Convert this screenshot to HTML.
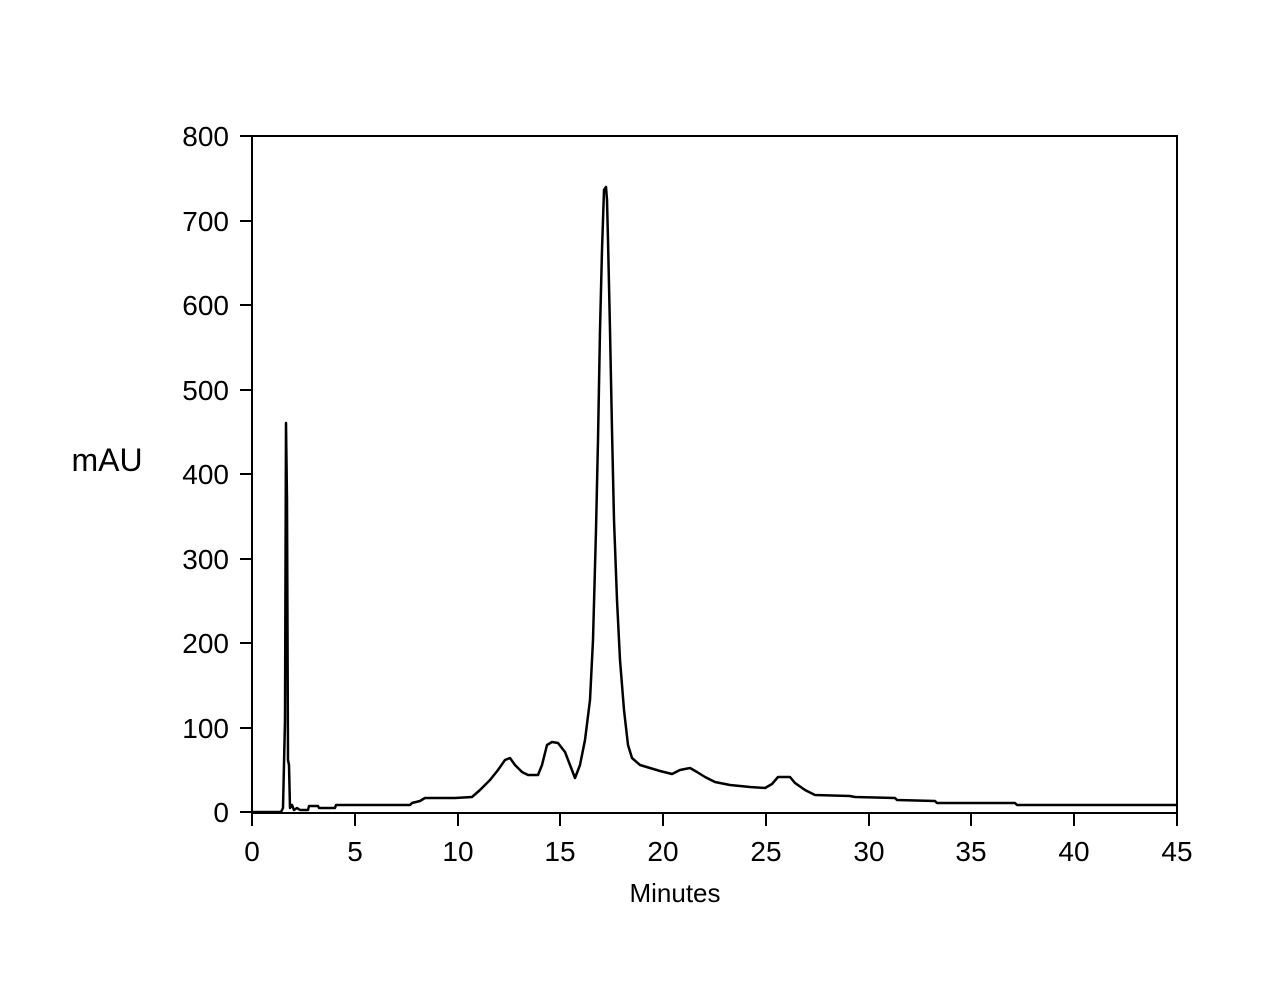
<!DOCTYPE html>
<html><head><style>body{margin:0;background:#fff}</style></head><body>
<svg width="1266" height="980" xmlns="http://www.w3.org/2000/svg" font-family="Liberation Sans, Arial, sans-serif">
<rect width="1266" height="980" fill="#fff"/>
<rect x="252" y="136" width="925" height="677" fill="none" stroke="#000" stroke-width="2"/>
<g stroke="#000" stroke-width="2">
<line x1="252" y1="813" x2="252" y2="826"/><line x1="355" y1="813" x2="355" y2="826"/><line x1="458" y1="813" x2="458" y2="826"/><line x1="560" y1="813" x2="560" y2="826"/><line x1="663" y1="813" x2="663" y2="826"/><line x1="766" y1="813" x2="766" y2="826"/><line x1="869" y1="813" x2="869" y2="826"/><line x1="971" y1="813" x2="971" y2="826"/><line x1="1074" y1="813" x2="1074" y2="826"/><line x1="1177" y1="813" x2="1177" y2="826"/>
<line x1="240" y1="812" x2="252" y2="812"/><line x1="240" y1="728" x2="252" y2="728"/><line x1="240" y1="643" x2="252" y2="643"/><line x1="240" y1="559" x2="252" y2="559"/><line x1="240" y1="474" x2="252" y2="474"/><line x1="240" y1="390" x2="252" y2="390"/><line x1="240" y1="305" x2="252" y2="305"/><line x1="240" y1="221" x2="252" y2="221"/><line x1="240" y1="136" x2="252" y2="136"/>
</g>
<g font-size="28" text-anchor="middle">
<text x="252" y="861">0</text><text x="355" y="861">5</text><text x="458" y="861">10</text><text x="560" y="861">15</text><text x="663" y="861">20</text><text x="766" y="861">25</text><text x="869" y="861">30</text><text x="971" y="861">35</text><text x="1074" y="861">40</text><text x="1177" y="861">45</text>
</g>
<g font-size="28" text-anchor="end">
<text x="229" y="822">0</text><text x="229" y="738">100</text><text x="229" y="653">200</text><text x="229" y="569">300</text><text x="229" y="484">400</text><text x="229" y="400">500</text><text x="229" y="315">600</text><text x="229" y="231">700</text><text x="229" y="146">800</text>
</g>
<text x="107" y="471" font-size="32" text-anchor="middle">mAU</text>
<text x="675" y="902" font-size="26" text-anchor="middle">Minutes</text>
<polyline fill="none" stroke="#000" stroke-width="2.5" stroke-linejoin="round" points="252,812 281,812 283,808 285,720 286,423 287,500 288,760 289,765 290,808 292,805 294,810 297,808 300,810 308,810 309,806 318,806 319,808 335,808 336,805 410,805 412,803 420,801 425,798 455,798 472,797 480,790 490,780 498,770 505,760 510,758 515,765 522,772 528,775 538,775 542,765 547,745 552,742 558,743 565,752 570,765 575,778 580,765 585,740 590,700 593,640 596,530 598,440 600,330 602,250 604,190 606,187 607,200 608,240 610,330 612,430 614,520 617,600 620,660 624,710 628,745 632,758 640,765 650,768 660,771 672,774 680,770 690,768 697,772 705,777 715,782 730,785 750,787 765,788 772,784 778,777 790,777 795,783 805,790 815,795 850,796 855,797 895,798 897,800 935,801 937,803 1015,803 1017,805 1177,805"/>
</svg>
</body></html>
